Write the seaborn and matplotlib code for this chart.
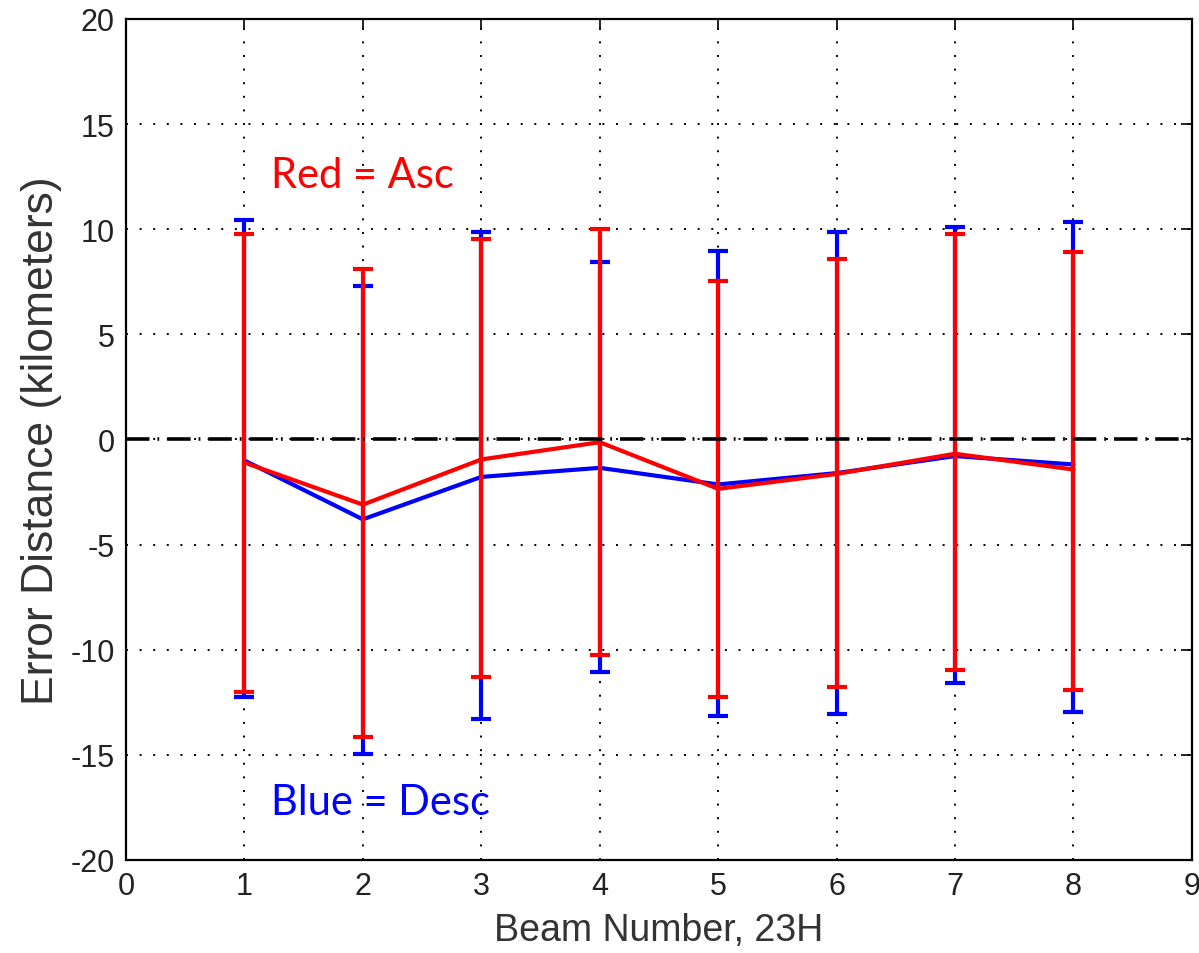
import numpy as np
import pandas as pd
import seaborn as sns
import matplotlib.pyplot as plt

# Values
beams = [1, 2, 3, 4, 5, 6, 7, 8]

desc_mean = [-1.0, -3.8, -1.78, -1.35, -2.14, -1.6, -0.79, -1.19]
desc_lo = [-12.25, -14.95, -13.3, -11.08, -13.17, -13.08, -11.56, -12.97]
desc_hi = [10.43, 7.29, 9.89, 8.46, 8.94, 9.89, 10.11, 10.32]

asc_mean = [-1.1, -3.1, -0.95, -0.13, -2.35, -1.64, -0.68, -1.43]
asc_lo = [-12.03, -14.13, -11.32, -10.27, -12.25, -11.79, -10.97, -11.9]
asc_hi = [9.76, 8.1, 9.52, 10.0, 7.52, 8.57, 9.76, 8.92]

x_ticks = list(range(0, 10))
y_ticks = list(range(-20, 25, 5))

sns.set_style("white")
plt.rcParams['font.family'] = ['Liberation Sans', 'DejaVu Sans']
plt.rcParams['axes.unicode_minus'] = False

df = pd.DataFrame({
    'beam': beams * 2,
    'err': desc_mean + asc_mean,
    'pass': ['Desc'] * len(beams) + ['Asc'] * len(beams),
})

fig = plt.figure(figsize=(11.99, 9.54), dpi=100)
ax = fig.add_axes([0.1051, 0.0975, 0.889, 0.8816])

colors = {'Desc': 'blue', 'Asc': 'red'}

# Desc first, Asc on top
for name, mean, lo, hi, z in [('Desc', desc_mean, desc_lo, desc_hi, 2),
                              ('Asc', asc_mean, asc_lo, asc_hi, 4)]:
    mean = np.array(mean)
    yerr = [mean - np.array(lo), np.array(hi) - mean]
    ax.errorbar(beams, mean, yerr=yerr, fmt='none', ecolor=colors[name],
                elinewidth=3, capsize=7, capthick=3, zorder=z)
    sns.lineplot(data=df[df['pass'] == name], x='beam', y='err',
                 color=colors[name], linewidth=3, ax=ax, zorder=z + 1,
                 legend=False)

ax.axhline(0, color='black', linewidth=2.6,
           linestyle=(0, (6.5, 2.2, 0.5, 2.2)), zorder=10)

ax.set_xlim(0, 9)
ax.set_ylim(-20, 20)
ax.set_xticks(x_ticks)
ax.set_yticks(y_ticks)
ax.grid(True, color='black', linestyle=(0, (1, 6)), linewidth=1.4)
ax.tick_params(direction='in', length=8, width=1.2, labelsize=22,
               top=True, right=True, colors='black', pad=8)
ax.tick_params(labelcolor='#222222')
for s in ax.spines.values():
    s.set_color('black')
    s.set_linewidth(1.6)

ax.set_xlabel('Beam Number, 23H', fontsize=27, color='#333333', labelpad=8)
ax.set_ylabel('Error Distance (kilometers)', fontsize=32, color='#333333')
ax.yaxis.set_label_coords(-0.06, 0.5)

ax.text(1.22, 12.0, 'Red = Asc', color='red', fontsize=30,
        family=['Lato', 'DejaVu Sans'], va='baseline', ha='left')
ax.text(1.22, -17.8, 'Blue = Desc', color='blue', fontsize=30,
        family=['Lato', 'DejaVu Sans'], va='baseline', ha='left')

fig.savefig('out.png', dpi=100)
